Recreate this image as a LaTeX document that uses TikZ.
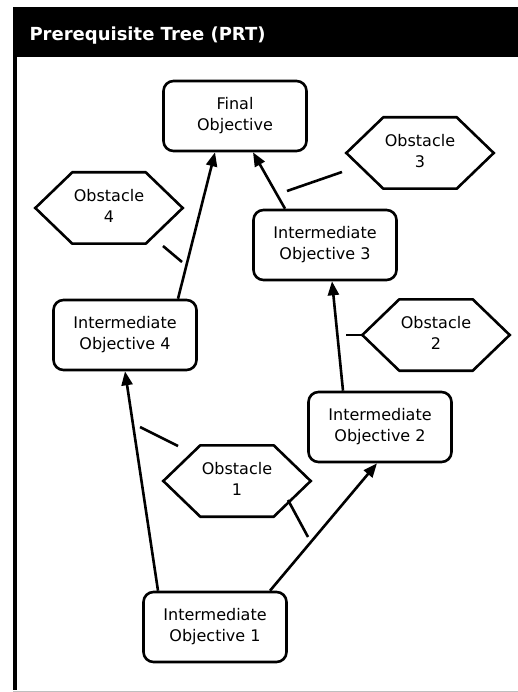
\documentclass[tikz,border=0pt]{standalone}
\usepackage{fontspec}
\setmainfont{DejaVu Sans}
\usetikzlibrary{arrows.meta,calc}
% two centred lines, lifted a little inside the rounded boxes
\newcommand\twoline[2]{\raisebox{4pt}{\begin{tabular}{@{}c@{}}#1\\#2\end{tabular}}}
\newcommand\obsttext[2]{\begin{tabular}{@{}c@{}}#1\\#2\end{tabular}}

\begin{document}
\begin{tikzpicture}[x=1pt,y=-1pt,
  txt/.style={font=\fontsize{16}{20.5}\selectfont},
  objbox/.style={txt, draw, line width=2.6pt, rounded corners=10pt,
    minimum width=143pt, minimum height=70pt, inner sep=0pt},
  obst/.style={txt, minimum width=147pt, minimum height=71pt, inner sep=0pt},
  hexline/.style={line width=2.6pt, line join=miter},
  arr/.style={line width=2.6pt, -{Triangle[length=14pt,width=11pt]}},
  bar/.style={line width=2.6pt}]

\useasboundingbox (0,0) rectangle (518,692);

% frame: title bar, left rule and bottom rule
\fill[black] (13,7) rectangle (518,57);
\fill[black] (13,7) rectangle (16.5,690);
\draw[black!25, line width=1pt] (13,691.5) -- (518,691.5);
\node[anchor=base west, text=white, font=\fontsize{18}{22}\selectfont\bfseries]
  (title) at (26,41) {Prerequisite Tree (PRT)};

% objectives
\node[objbox] (final) at (235,116) {\twoline{Final}{Objective}};
\node[objbox] (io3) at (325,245) {\twoline{Intermediate}{Objective 3}};
\node[objbox] (io4) at (125,335) {\twoline{Intermediate}{Objective 4}};
\node[objbox] (io2) at (380,427) {\twoline{Intermediate}{Objective 2}};
\node[objbox] (io1) at (215,627) {\twoline{Intermediate}{Objective 1}};

% obstacles
\node[obst] (ob4) at (109,208) {\obsttext{Obstacle}{4}};
\node[obst] (ob3) at (420,153) {\obsttext{Obstacle}{3}};
\node[obst] (ob2) at (436,335) {\obsttext{Obstacle}{2}};
\node[obst] (ob1) at (237,481) {\obsttext{Obstacle}{1}};

\foreach \n in {ob1,ob2,ob3,ob4}
  \draw[hexline] (\n.west) -- ([xshift=37pt]\n.north west)
    -- ([xshift=-37pt]\n.north east) -- (\n.east)
    -- ([xshift=-37pt]\n.south east) -- ([xshift=37pt]\n.south west) -- cycle;

% prerequisite arrows
\draw[arr] ([xshift=-57pt]io1.north) -- (io4.south);
\draw[arr] ([xshift=55pt]io1.north) -- ([xshift=-3pt]io2.south);
\draw[arr] ([xshift=-37pt]io2.north) -- ([xshift=7pt]io3.south);
\draw[arr] ([xshift=-40pt]io3.north) -- ([xshift=18pt]final.south);
\draw[arr] ([xshift=53pt]io4.north) -- ([xshift=-20pt]final.south);

% obstacle ties to the arrows they block
\coordinate (o4a) at (163,246);
\coordinate (o4b) at (182,262);
\coordinate (o3a) at (342,172);
\coordinate (o3b) at (287,191);
\coordinate (o2b) at (346,335);
\coordinate (o1a) at (178,446);
\coordinate (o1b) at (140,427);
\coordinate (o1c) at (288,500);
\coordinate (o1d) at (308,537);
\draw[bar] (o4a) -- (o4b);
\draw[bar] (o3a) -- (o3b);
\draw[bar] (ob2.west) -- (o2b);
\draw[bar] (o1a) -- (o1b);
\draw[bar] (o1c) -- (o1d);
\end{tikzpicture}
\end{document}
